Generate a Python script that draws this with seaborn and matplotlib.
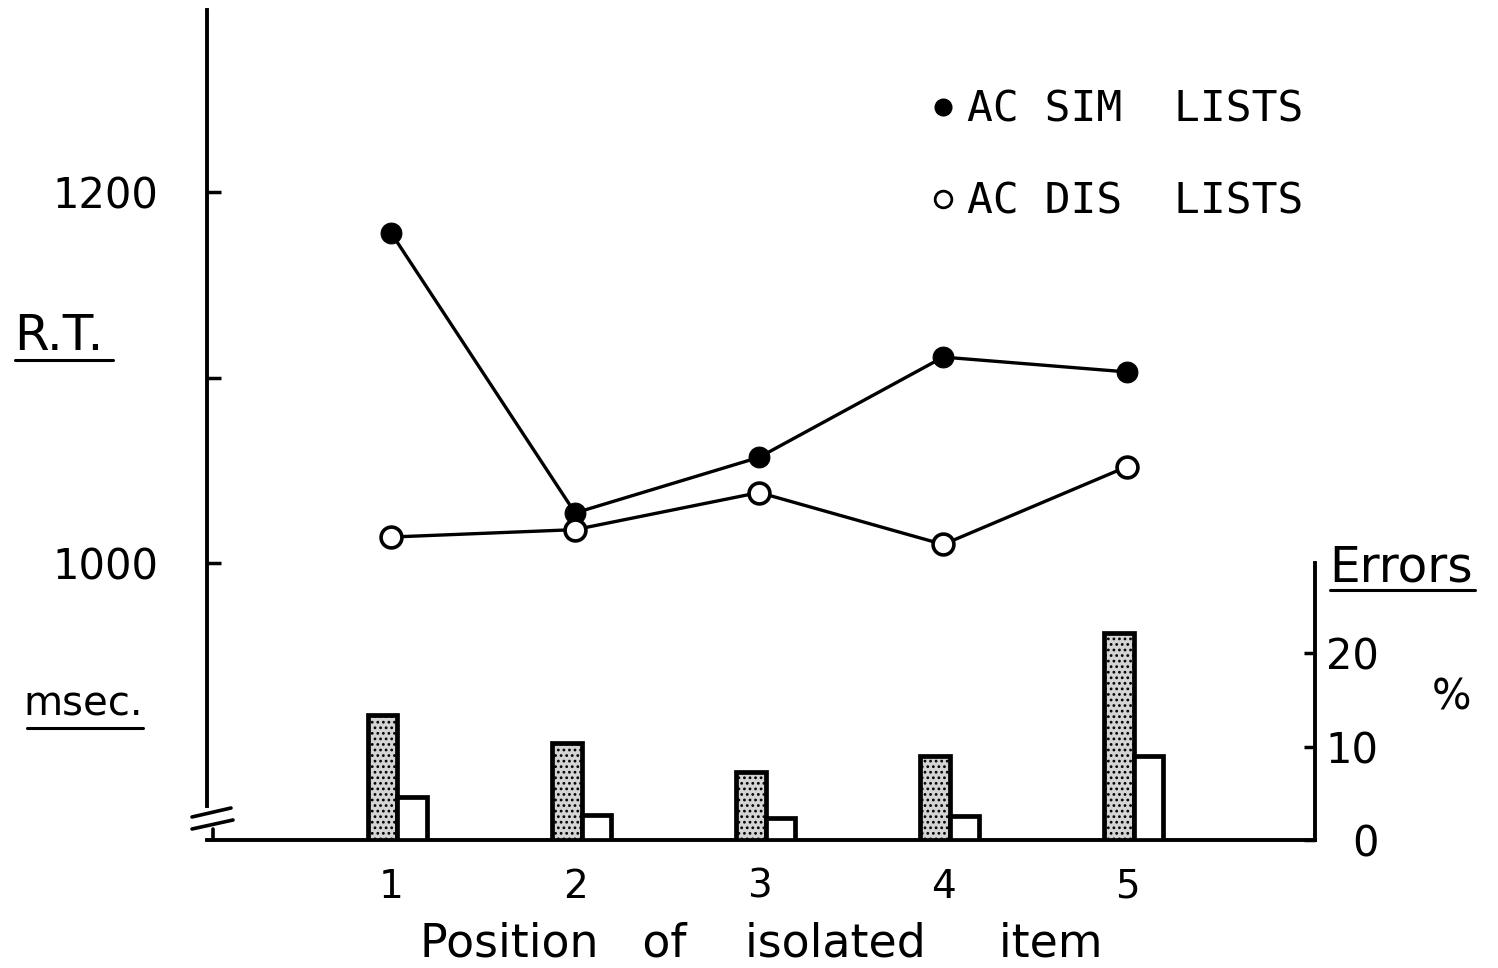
import matplotlib
matplotlib.use("Agg")
import matplotlib.pyplot as plt
from matplotlib.lines import Line2D
import seaborn as sns
import pandas as pd

# ---- data ----
positions = [1, 2, 3, 4, 5]
position_labels = ["1", "2", "3", "4", "5"]
rt_sim = [1178, 1027, 1057, 1111, 1103]
rt_dis = [1014, 1018, 1038, 1010, 1052]
err_sim = [13.4, 10.4, 7.3, 9.0, 22.2]
err_dis = [4.6, 2.7, 2.4, 2.6, 9.0]
series_names = ["AC SIM  LISTS", "AC DIS  LISTS"]
rt_ticks = [1000, 1100, 1200]
rt_tick_labels = ["1000", "", "1200"]
err_ticks = [0, 10, 20]
err_tick_labels = ["0", "10", "20"]

sns.set_style("white")
plt.rcParams["font.family"] = ["DejaVu Sans"]
plt.rcParams["hatch.linewidth"] = 1.2
for k in ("text.color", "axes.labelcolor", "xtick.color", "ytick.color"):
    plt.rcParams[k] = "black"

W, H = 1498, 968
def fx(px): return px / W
def fy(py): return 1 - py / H

fig = plt.figure(figsize=(W / 100, H / 100), dpi=100)
ax = fig.add_axes([fx(207), fy(840), (1315 - 207) / W, (840 - 10) / H])
ax2 = ax.twinx()

# ---- error bars (right axis) ----
err_df = pd.DataFrame({
    "pos": positions * 2,
    "list": [series_names[0]] * 5 + [series_names[1]] * 5,
    "err": err_sim + err_dis,
})
err_df["xpos"] = err_df["pos"] + 0.035
sns.barplot(data=err_df, x="xpos", y="err", hue="list", native_scale=True,
            width=0.32, gap=0, dodge=True, errorbar=None,
            palette={series_names[0]: "#d4d4d4", series_names[1]: "white"},
            edgecolor="black", linewidth=3.4, ax=ax2, legend=False)
for p in ax2.patches:
    fc = p.get_facecolor()
    if fc[0] < 0.95:
        p.set_hatch("...")

# ---- RT lines (left axis) ----
sns.lineplot(x=positions, y=rt_sim, ax=ax, color="black", linewidth=2.4,
             marker="o", markersize=15, markerfacecolor="black",
             markeredgecolor="black", zorder=3)
sns.lineplot(x=positions, y=rt_dis, ax=ax, color="black", linewidth=2.4,
             marker="o", markersize=15, markerfacecolor="white",
             markeredgecolor="black", markeredgewidth=2.6, zorder=4)

# ---- axes limits ----
ax.set_xlim(0.0, 6.02)
ax.set_ylim(850.7, 1298.1)
ax2.set_ylim(0, 88.8)

# spines
for a in (ax, ax2):
    a.spines["top"].set_visible(False)
    for s in a.spines.values():
        s.set_linewidth(2.8)
        s.set_color("black")
ax.spines["right"].set_visible(False)
ax2.spines["left"].set_visible(False)
ax2.spines["bottom"].set_visible(False)
ax.spines["left"].set_bounds(869, 1298.1)
ax2.spines["right"].set_bounds(0, 29.6)

# ticks
ax.set_xticks(positions)
ax.set_xticklabels(position_labels)
ax.tick_params(axis="x", direction="out", length=6, width=2, pad=14,
               labelsize=28)
ax.set_yticks(rt_ticks)
ax.set_yticklabels(rt_tick_labels)
ax.tick_params(axis="y", direction="in", length=10, width=2.5, pad=35,
               labelsize=30)
ax2.set_yticks(err_ticks)
ax2.set_yticklabels(err_tick_labels)
ax2.tick_params(axis="y", direction="in", length=8, width=2.5, pad=46,
                labelsize=30)
for lab in ax2.get_yticklabels():
    lab.set_horizontalalignment("right")

ax.set_xlabel("Position   of    isolated     item", fontsize=33, labelpad=11)
ax.set_ylabel("")
ax2.set_ylabel("")

# ---- axis break on left axis ----
for (x0, y0, x1, y1) in [(192, 817, 231, 808), (192, 829, 233, 820), (213, 829, 213, 840)]:
    fig.add_artist(Line2D([fx(x0), fx(x1)], [fy(y0), fy(y1)],
                          transform=fig.transFigure, color="black", lw=2.6))

# ---- axis titles ----
fig.text(fx(14), fy(350), "R.T.", fontsize=36, ha="left", va="baseline")
fig.text(fx(23), fy(715), "msec.", fontsize=29, ha="left", va="baseline")
fig.text(fx(1329), fy(582), "Errors", fontsize=35, ha="left", va="baseline")
fig.text(fx(1451), fy(697), "%", fontsize=30, ha="center", va="center")
for (x0, x1, y) in [(15, 113, 360), (27, 143, 728), (1330, 1475, 590)]:
    fig.add_artist(Line2D([fx(x0), fx(x1)], [fy(y), fy(y)],
                          transform=fig.transFigure, color="black", lw=2.2))

# ---- legend ----
handles = [
    Line2D([], [], linestyle="none", marker="o", markersize=12,
           markerfacecolor="black", markeredgecolor="black"),
    Line2D([], [], linestyle="none", marker="o", markersize=12,
           markerfacecolor="white", markeredgecolor="black", markeredgewidth=2),
]
ax.legend(handles, series_names, loc="upper left",
          bbox_to_anchor=(fx(930), fy(89)), bbox_transform=fig.transFigure,
          frameon=False, borderpad=0, borderaxespad=0, handlelength=0.6,
          handletextpad=0.25, labelspacing=1.16,
          prop={"family": "DejaVu Sans Mono", "size": 31})

fig.savefig("out.png", dpi=100)
